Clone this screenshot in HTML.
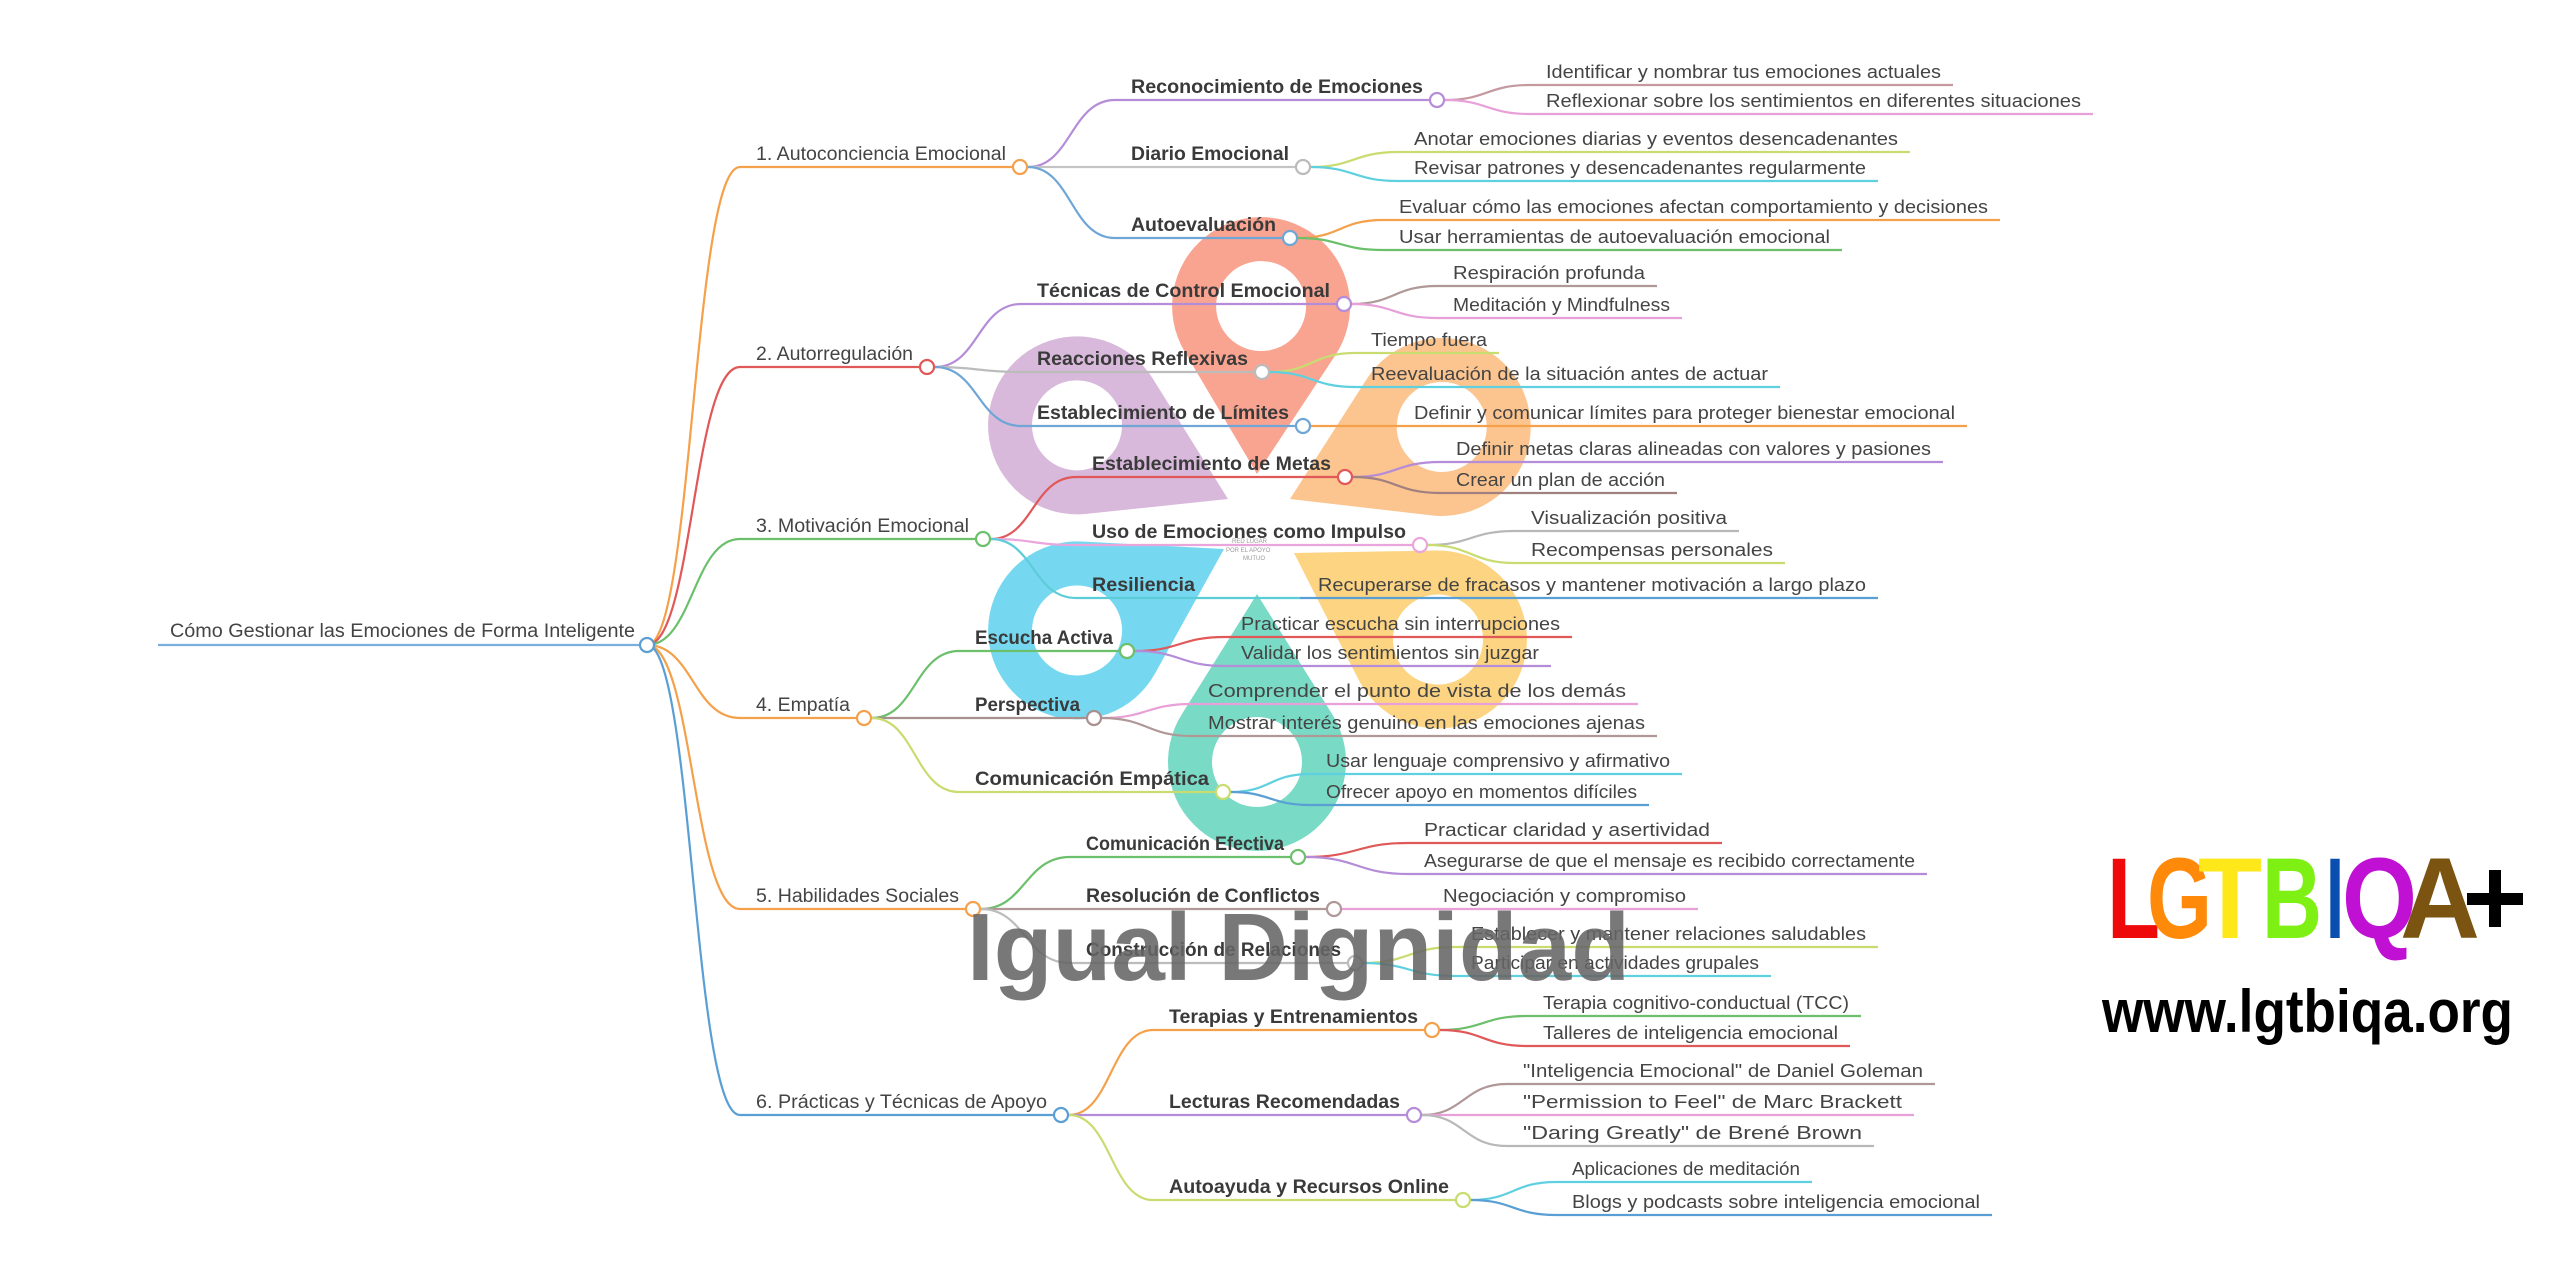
<!DOCTYPE html>
<html><head><meta charset="utf-8"><style>
html,body{margin:0;padding:0;background:#fff;}
svg{display:block;}
.t1{font:19px "Liberation Sans",sans-serif;fill:#444;}
.t2{font:bold 19px "Liberation Sans",sans-serif;fill:#3a3a3a;}
.t3{font:18px "Liberation Sans",sans-serif;fill:#444;}
path.l{fill:none;stroke-width:2.2;}
circle.n{fill:#fff;stroke-width:2.2;}
</style></head><body>
<svg width="2560" height="1280" viewBox="0 0 2560 1280" xmlns="http://www.w3.org/2000/svg">
<!-- watermark petals -->
<defs><path id="pt" d="M0,0 L75.5,-120.8 A89,89 0 1,0 -75.5,-120.8 Z"/></defs>
<g opacity="0.95">
<g transform="translate(1257,474) rotate(1.4)"><use href="#pt" fill="#f9a08c"/><circle cx="0" cy="-168" r="45" fill="#fff"/></g>
<g transform="translate(1228,499) rotate(-64)"><use href="#pt" fill="#d6b6da"/><circle cx="0" cy="-168" r="45" fill="#fff"/></g>
<g transform="translate(1290,499) rotate(64.6)"><use href="#pt" fill="#fcc189"/><circle cx="0" cy="-168" r="45" fill="#fff"/></g>
<g transform="translate(1224,549) rotate(-119)"><use href="#pt" fill="#6fd6f0"/><circle cx="0" cy="-168" r="45" fill="#fff"/></g>
<g transform="translate(1294,553) rotate(121)"><use href="#pt" fill="#fcd27c"/><circle cx="0" cy="-168" r="45" fill="#fff"/></g>
<g transform="translate(1257,594) rotate(180)"><use href="#pt" fill="#72d9c2"/><circle cx="0" cy="-168" r="45" fill="#fff"/></g>
</g>
<text x="1232" y="543" style="font:6px 'Liberation Sans',sans-serif;fill:#999">RED LUGAR</text>
<text x="1226" y="552" style="font:6px 'Liberation Sans',sans-serif;fill:#999">POR EL APOYO</text>
<text x="1243" y="560" style="font:6px 'Liberation Sans',sans-serif;fill:#999">MUTUO</text>

<!-- root -->
<path class="l" d="M158 645 L640 645" stroke="#7aaedc" stroke-width="3.5"/>
<path class="l" d="M647 645 C693 645 693 167 740 167 L1012 167" stroke="#f5a04a"/>
<path class="l" d="M647 645 C693 645 693 367 740 367 L919 367" stroke="#e05858"/>
<path class="l" d="M647 645 C693 645 693 539 740 539 L975 539" stroke="#6cc06c"/>
<path class="l" d="M647 645 C693 645 693 718 740 718 L856 718" stroke="#f5a04a"/>
<path class="l" d="M647 645 C693 645 693 909 740 909 L965 909" stroke="#f5a04a"/>
<path class="l" d="M647 645 C693 645 693 1115 740 1115 L1053 1115" stroke="#5a9fd4"/>

<!-- L2 lines -->
<path class="l" d="M1028 167 C1071 167 1071 100 1115 100 L1429 100" stroke="#b48cd8"/>
<path class="l" d="M1028 167 L1295 167" stroke="#c4c4c4"/>
<path class="l" d="M1028 167 C1071 167 1071 238 1115 238 L1282 238" stroke="#6fa6d6"/>
<path class="l" d="M935 367 C978 367 978 304 1021 304 L1336 304" stroke="#b48cd8"/>
<path class="l" d="M935 367 C978 367 978 372 1021 372 L1254 372" stroke="#bcbcbc"/>
<path class="l" d="M935 367 C978 367 978 426 1021 426 L1295 426" stroke="#6fa6d6"/>
<path class="l" d="M991 539 C1033 539 1033 477 1076 477 L1337 477" stroke="#e05858"/>
<path class="l" d="M991 539 C1033 539 1033 545 1076 545 L1412 545" stroke="#eaa6dc"/>
<path class="l" d="M991 539 C1033 539 1033 598 1076 598 L1300 598" stroke="#5ccdd8"/>
<path class="l" d="M1300 598 L1878 598" stroke="#5a9fd4"/>
<path class="l" d="M872 718 C915 718 915 651 959 651 L1119 651" stroke="#6cc06c"/>
<path class="l" d="M872 718 L1086 718" stroke="#a89090"/>
<path class="l" d="M872 718 C915 718 915 792 959 792 L1215 792" stroke="#c8dc70"/>
<path class="l" d="M981 909 C1025 909 1025 857 1070 857 L1290 857" stroke="#6cc06c"/>
<path class="l" d="M981 909 L1326 909" stroke="#b09898"/>
<path class="l" d="M981 909 C1025 909 1025 963 1070 963 L1347 963" stroke="#bcbcbc"/>
<path class="l" d="M1069 1115 C1111 1115 1111 1030 1153 1030 L1424 1030" stroke="#f5a04a"/>
<path class="l" d="M1069 1115 L1406 1115" stroke="#b48cd8"/>
<path class="l" d="M1069 1115 C1111 1115 1111 1200 1153 1200 L1455 1200" stroke="#c8dc70"/>

<!-- leaf lines -->
<g>
<path class="l" d="M1445 100 C1487 100 1487 85 1530 85 L1953 85" stroke="#c49aa0"/>
<path class="l" d="M1445 100 C1487 100 1487 114 1530 114 L2093 114" stroke="#e8a0d8"/>
<path class="l" d="M1311 167 C1354 167 1354 152 1398 152 L1910 152" stroke="#c8dc70"/>
<path class="l" d="M1311 167 C1354 167 1354 181 1398 181 L1878 181" stroke="#5fd0e0"/>
<path class="l" d="M1298 238 C1340 238 1340 220 1383 220 L2000 220" stroke="#f5a04a"/>
<path class="l" d="M1298 238 C1340 238 1340 250 1383 250 L1842 250" stroke="#6cc06c"/>
<path class="l" d="M1352 304 C1394 304 1394 286 1437 286 L1657 286" stroke="#b09898"/>
<path class="l" d="M1352 304 C1394 304 1394 318 1437 318 L1682 318" stroke="#e8a0d8"/>
<path class="l" d="M1270 372 C1312 372 1312 353 1355 353 L1499 353" stroke="#c8dc70"/>
<path class="l" d="M1270 372 C1312 372 1312 387 1355 387 L1780 387" stroke="#5fd0e0"/>
<path class="l" d="M1311 426 L1967 426" stroke="#f5a04a"/>
<path class="l" d="M1353 477 C1396 477 1396 462 1440 462 L1943 462" stroke="#b48cd8"/>
<path class="l" d="M1353 477 C1396 477 1396 493 1440 493 L1677 493" stroke="#a08080"/>
<path class="l" d="M1428 545 C1471 545 1471 531 1515 531 L1739 531" stroke="#b8b8b8"/>
<path class="l" d="M1428 545 C1471 545 1471 563 1515 563 L1785 563" stroke="#c8dc70"/>
<path class="l" d="M1135 651 C1180 651 1180 637 1225 637 L1572 637" stroke="#e05858"/>
<path class="l" d="M1135 651 C1180 651 1180 666 1225 666 L1551 666" stroke="#b48cd8"/>
<path class="l" d="M1102 718 C1147 718 1147 704 1192 704 L1638 704" stroke="#e8a0d8"/>
<path class="l" d="M1102 718 C1147 718 1147 736 1192 736 L1657 736" stroke="#b09898"/>
<path class="l" d="M1231 792 C1270 792 1270 774 1310 774 L1682 774" stroke="#5fd0e0"/>
<path class="l" d="M1231 792 C1270 792 1270 805 1310 805 L1649 805" stroke="#5a9fd4"/>
<path class="l" d="M1306 857 C1357 857 1357 843 1408 843 L1722 843" stroke="#e05858"/>
<path class="l" d="M1306 857 C1357 857 1357 874 1408 874 L1927 874" stroke="#b48cd8"/>
<path class="l" d="M1342 909 L1698 909" stroke="#e8a0d8"/>
<path class="l" d="M1363 963 C1409 963 1409 947 1455 947 L1878 947" stroke="#c8dc70"/>
<path class="l" d="M1363 963 C1409 963 1409 976 1455 976 L1771 976" stroke="#5fd0e0"/>
<path class="l" d="M1440 1030 C1483 1030 1483 1016 1527 1016 L1861 1016" stroke="#6cc06c"/>
<path class="l" d="M1440 1030 C1483 1030 1483 1046 1527 1046 L1850 1046" stroke="#e05858"/>
<path class="l" d="M1422 1115 C1464 1115 1464 1084 1507 1084 L1935 1084" stroke="#b09898"/>
<path class="l" d="M1422 1115 L1914 1115" stroke="#e8a0d8"/>
<path class="l" d="M1422 1115 C1464 1115 1464 1146 1507 1146 L1874 1146" stroke="#b8b8b8"/>
<path class="l" d="M1471 1200 C1513 1200 1513 1182 1556 1182 L1812 1182" stroke="#5fd0e0"/>
<path class="l" d="M1471 1200 C1513 1200 1513 1215 1556 1215 L1992 1215" stroke="#5a9fd4"/>
</g>

<!-- circles -->
<circle class="n" cx="647" cy="645" r="7" stroke="#5a9fd4"/>
<circle class="n" cx="1020" cy="167" r="7" stroke="#f5a04a"/>
<circle class="n" cx="927" cy="367" r="7" stroke="#e05858"/>
<circle class="n" cx="983" cy="539" r="7" stroke="#6cc06c"/>
<circle class="n" cx="864" cy="718" r="7" stroke="#f5a04a"/>
<circle class="n" cx="973" cy="909" r="7" stroke="#f5a04a"/>
<circle class="n" cx="1061" cy="1115" r="7" stroke="#5a9fd4"/>
<circle class="n" cx="1437" cy="100" r="7" stroke="#b48cd8"/>
<circle class="n" cx="1303" cy="167" r="7" stroke="#bbbbbb"/>
<circle class="n" cx="1290" cy="238" r="7" stroke="#6fa6d6"/>
<circle class="n" cx="1344" cy="304" r="7" stroke="#b48cd8"/>
<circle class="n" cx="1262" cy="372" r="7" stroke="#bbbbbb"/>
<circle class="n" cx="1303" cy="426" r="7" stroke="#6fa6d6"/>
<circle class="n" cx="1345" cy="477" r="7" stroke="#e05858"/>
<circle class="n" cx="1420" cy="545" r="7" stroke="#eaa6dc"/>
<circle class="n" cx="1127" cy="651" r="7" stroke="#6cc06c"/>
<circle class="n" cx="1094" cy="718" r="7" stroke="#a89090"/>
<circle class="n" cx="1223" cy="792" r="7" stroke="#c8dc70"/>
<circle class="n" cx="1298" cy="857" r="7" stroke="#6cc06c"/>
<circle class="n" cx="1334" cy="909" r="7" stroke="#b09898"/>
<circle class="n" cx="1355" cy="963" r="7" stroke="#bbbbbb"/>
<circle class="n" cx="1432" cy="1030" r="7" stroke="#f5a04a"/>
<circle class="n" cx="1414" cy="1115" r="7" stroke="#b48cd8"/>
<circle class="n" cx="1463" cy="1200" r="7" stroke="#c8dc70"/>

<!-- texts -->
<text class="t1" x="170" y="637" textLength="465" lengthAdjust="spacingAndGlyphs">Cómo Gestionar las Emociones de Forma Inteligente</text>
<text class="t1" x="756" y="160" textLength="250" lengthAdjust="spacingAndGlyphs">1. Autoconciencia Emocional</text>
<text class="t1" x="756" y="360" textLength="157" lengthAdjust="spacingAndGlyphs">2. Autorregulación</text>
<text class="t1" x="756" y="532" textLength="213" lengthAdjust="spacingAndGlyphs">3. Motivación Emocional</text>
<text class="t1" x="756" y="711" textLength="94" lengthAdjust="spacingAndGlyphs">4. Empatía</text>
<text class="t1" x="756" y="902" textLength="203" lengthAdjust="spacingAndGlyphs">5. Habilidades Sociales</text>
<text class="t1" x="756" y="1108" textLength="291" lengthAdjust="spacingAndGlyphs">6. Prácticas y Técnicas de Apoyo</text>

<text class="t2" x="1131" y="93" textLength="292" lengthAdjust="spacingAndGlyphs">Reconocimiento de Emociones</text>
<text class="t2" x="1131" y="160" textLength="158" lengthAdjust="spacingAndGlyphs">Diario Emocional</text>
<text class="t2" x="1131" y="231" textLength="145" lengthAdjust="spacingAndGlyphs">Autoevaluación</text>
<text class="t2" x="1037" y="297" textLength="293" lengthAdjust="spacingAndGlyphs">Técnicas de Control Emocional</text>
<text class="t2" x="1037" y="365" textLength="211" lengthAdjust="spacingAndGlyphs">Reacciones Reflexivas</text>
<text class="t2" x="1037" y="419" textLength="252" lengthAdjust="spacingAndGlyphs">Establecimiento de Límites</text>
<text class="t2" x="1092" y="470" textLength="239" lengthAdjust="spacingAndGlyphs">Establecimiento de Metas</text>
<text class="t2" x="1092" y="538" textLength="314" lengthAdjust="spacingAndGlyphs">Uso de Emociones como Impulso</text>
<text class="t2" x="1092" y="591" textLength="103" lengthAdjust="spacingAndGlyphs">Resiliencia</text>
<text class="t2" x="975" y="644" textLength="138" lengthAdjust="spacingAndGlyphs">Escucha Activa</text>
<text class="t2" x="975" y="711" textLength="105" lengthAdjust="spacingAndGlyphs">Perspectiva</text>
<text class="t2" x="975" y="785" textLength="234" lengthAdjust="spacingAndGlyphs">Comunicación Empática</text>
<text class="t2" x="1086" y="850" textLength="198" lengthAdjust="spacingAndGlyphs">Comunicación Efectiva</text>
<text class="t2" x="1086" y="902" textLength="234" lengthAdjust="spacingAndGlyphs">Resolución de Conflictos</text>
<text class="t2" x="1086" y="956" textLength="255" lengthAdjust="spacingAndGlyphs">Construcción de Relaciones</text>
<text class="t2" x="1169" y="1023" textLength="249" lengthAdjust="spacingAndGlyphs">Terapias y Entrenamientos</text>
<text class="t2" x="1169" y="1108" textLength="231" lengthAdjust="spacingAndGlyphs">Lecturas Recomendadas</text>
<text class="t2" x="1169" y="1193" textLength="280" lengthAdjust="spacingAndGlyphs">Autoayuda y Recursos Online</text>

<text class="t3" x="1546" y="78" textLength="395" lengthAdjust="spacingAndGlyphs">Identificar y nombrar tus emociones actuales</text>
<text class="t3" x="1546" y="107" textLength="535" lengthAdjust="spacingAndGlyphs">Reflexionar sobre los sentimientos en diferentes situaciones</text>
<text class="t3" x="1414" y="145" textLength="484" lengthAdjust="spacingAndGlyphs">Anotar emociones diarias y eventos desencadenantes</text>
<text class="t3" x="1414" y="174" textLength="452" lengthAdjust="spacingAndGlyphs">Revisar patrones y desencadenantes regularmente</text>
<text class="t3" x="1399" y="213" textLength="589" lengthAdjust="spacingAndGlyphs">Evaluar cómo las emociones afectan comportamiento y decisiones</text>
<text class="t3" x="1399" y="243" textLength="431" lengthAdjust="spacingAndGlyphs">Usar herramientas de autoevaluación emocional</text>
<text class="t3" x="1453" y="279" textLength="192" lengthAdjust="spacingAndGlyphs">Respiración profunda</text>
<text class="t3" x="1453" y="311" textLength="217" lengthAdjust="spacingAndGlyphs">Meditación y Mindfulness</text>
<text class="t3" x="1371" y="346" textLength="116" lengthAdjust="spacingAndGlyphs">Tiempo fuera</text>
<text class="t3" x="1371" y="380" textLength="397" lengthAdjust="spacingAndGlyphs">Reevaluación de la situación antes de actuar</text>
<text class="t3" x="1414" y="419" textLength="541" lengthAdjust="spacingAndGlyphs">Definir y comunicar límites para proteger bienestar emocional</text>
<text class="t3" x="1456" y="455" textLength="475" lengthAdjust="spacingAndGlyphs">Definir metas claras alineadas con valores y pasiones</text>
<text class="t3" x="1456" y="486" textLength="209" lengthAdjust="spacingAndGlyphs">Crear un plan de acción</text>
<text class="t3" x="1531" y="524" textLength="196" lengthAdjust="spacingAndGlyphs">Visualización positiva</text>
<text class="t3" x="1531" y="556" textLength="242" lengthAdjust="spacingAndGlyphs">Recompensas personales</text>
<text class="t3" x="1318" y="591" textLength="548" lengthAdjust="spacingAndGlyphs">Recuperarse de fracasos y mantener motivación a largo plazo</text>
<text class="t3" x="1241" y="630" textLength="319" lengthAdjust="spacingAndGlyphs">Practicar escucha sin interrupciones</text>
<text class="t3" x="1241" y="659" textLength="298" lengthAdjust="spacingAndGlyphs">Validar los sentimientos sin juzgar</text>
<text class="t3" x="1208" y="697" textLength="418" lengthAdjust="spacingAndGlyphs">Comprender el punto de vista de los demás</text>
<text class="t3" x="1208" y="729" textLength="437" lengthAdjust="spacingAndGlyphs">Mostrar interés genuino en las emociones ajenas</text>
<text class="t3" x="1326" y="767" textLength="344" lengthAdjust="spacingAndGlyphs">Usar lenguaje comprensivo y afirmativo</text>
<text class="t3" x="1326" y="798" textLength="311" lengthAdjust="spacingAndGlyphs">Ofrecer apoyo en momentos difíciles</text>
<text class="t3" x="1424" y="836" textLength="286" lengthAdjust="spacingAndGlyphs">Practicar claridad y asertividad</text>
<text class="t3" x="1424" y="867" textLength="491" lengthAdjust="spacingAndGlyphs">Asegurarse de que el mensaje es recibido correctamente</text>
<text class="t3" x="1443" y="902" textLength="243" lengthAdjust="spacingAndGlyphs">Negociación y compromiso</text>
<text class="t3" x="1471" y="940" textLength="395" lengthAdjust="spacingAndGlyphs">Establecer y mantener relaciones saludables</text>
<text class="t3" x="1471" y="969" textLength="288" lengthAdjust="spacingAndGlyphs">Participar en actividades grupales</text>
<text class="t3" x="1543" y="1009" textLength="306" lengthAdjust="spacingAndGlyphs">Terapia cognitivo-conductual (TCC)</text>
<text class="t3" x="1543" y="1039" textLength="295" lengthAdjust="spacingAndGlyphs">Talleres de inteligencia emocional</text>
<text class="t3" x="1523" y="1077" textLength="400" lengthAdjust="spacingAndGlyphs">"Inteligencia Emocional" de Daniel Goleman</text>
<text class="t3" x="1523" y="1108" textLength="379" lengthAdjust="spacingAndGlyphs">"Permission to Feel" de Marc Brackett</text>
<text class="t3" x="1523" y="1139" textLength="339" lengthAdjust="spacingAndGlyphs">"Daring Greatly" de Brené Brown</text>
<text class="t3" x="1572" y="1175" textLength="228" lengthAdjust="spacingAndGlyphs">Aplicaciones de meditación</text>
<text class="t3" x="1572" y="1208" textLength="408" lengthAdjust="spacingAndGlyphs">Blogs y podcasts sobre inteligencia emocional</text>

<!-- watermark text -->
<text x="967" y="980" textLength="663" lengthAdjust="spacingAndGlyphs" style="font:bold 96px 'Liberation Sans',sans-serif;fill:#666;opacity:0.88">Igual Dignidad</text>

<!-- logo -->
<g style="font-family:'Liberation Sans',sans-serif;font-weight:bold;font-size:115px">
<text x="2107" y="938" textLength="53" lengthAdjust="spacingAndGlyphs" fill="#ee0a0a">L</text>
<text x="2147" y="938" textLength="65" lengthAdjust="spacingAndGlyphs" fill="#ff8a0a">G</text>
<text x="2198" y="938" textLength="64" lengthAdjust="spacingAndGlyphs" fill="#ffe81a">T</text>
<text x="2262" y="938" textLength="60" lengthAdjust="spacingAndGlyphs" fill="#7ff014">B</text>
<text x="2326" y="938" textLength="18" lengthAdjust="spacingAndGlyphs" fill="#0a4fb0">I</text>
<text x="2342" y="938" textLength="75" lengthAdjust="spacingAndGlyphs" fill="#c010d4">Q</text>
<text x="2400" y="938" textLength="80" lengthAdjust="spacingAndGlyphs" fill="#7a5410">A</text>
</g>
<rect x="2467" y="893" width="56" height="12" fill="#000"/>
<rect x="2489" y="870" width="12" height="57" fill="#000"/>
<text x="2102" y="1032" textLength="411" lengthAdjust="spacingAndGlyphs" style="font:bold 60px 'Liberation Sans',sans-serif;fill:#000">www.lgtbiqa.org</text>
</svg>
</body></html>
